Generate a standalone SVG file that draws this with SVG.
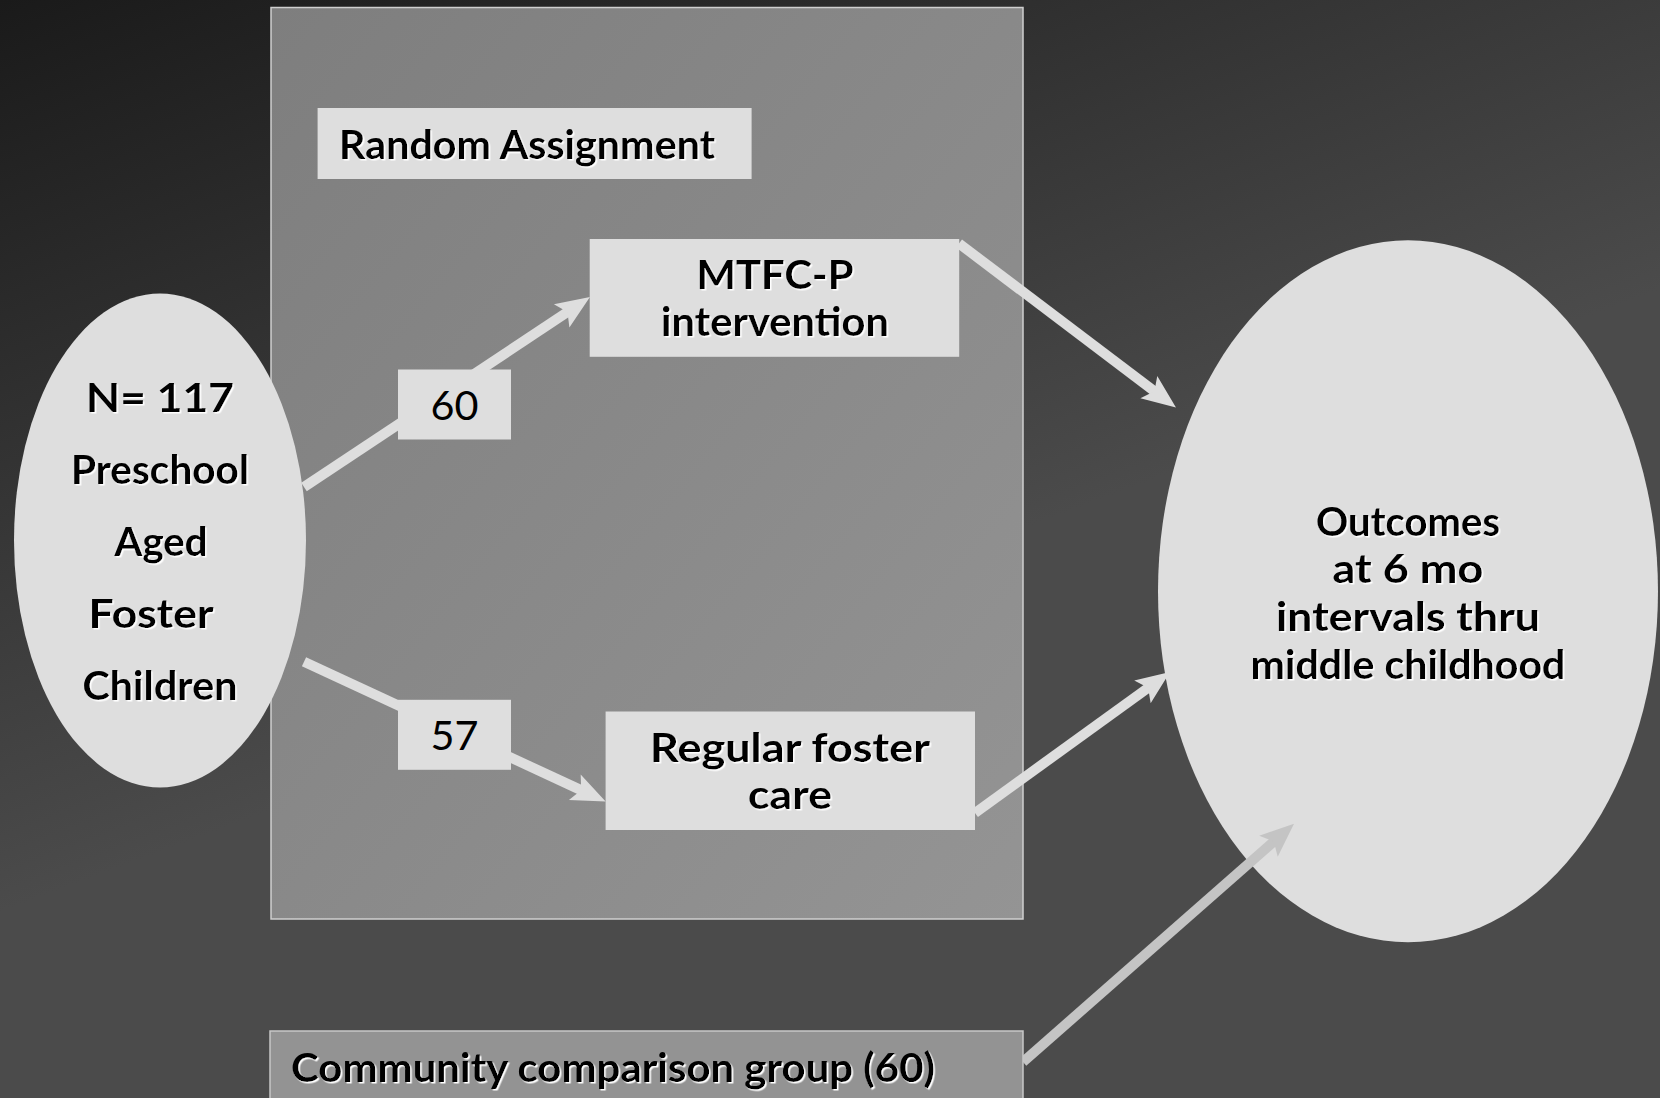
<svg xmlns="http://www.w3.org/2000/svg" width="1660" height="1098" viewBox="0 0 1660 1098">
<style>
.lbl{font-family:Lato,"Open Sans","DejaVu Sans",sans-serif;font-weight:bold;font-size:40px;fill:#000;filter:url(#sh)}
.num{font-family:Lato,"Open Sans","DejaVu Sans",sans-serif;font-weight:normal;font-size:40px;fill:#000}
.box{fill:#dedede}
.conn{stroke:#dedede;stroke-width:10;fill:none;marker-end:url(#ah)}
.conn2{stroke:#c4c4c4;stroke-width:10;fill:none;marker-end:url(#ah2)}
</style>
<defs>
<linearGradient id="bg" gradientUnits="userSpaceOnUse" x1="0" y1="0" x2="300" y2="800">
<stop offset="0" stop-color="#1a1a1a"/><stop offset="1" stop-color="#4b4b4b"/>
</linearGradient>
<linearGradient id="cg" x1="0" y1="0" x2="1" y2="1">
<stop offset="0" stop-color="#7e7e7e"/><stop offset="1" stop-color="#949494"/>
</linearGradient>
<filter id="sh" x="-5%" y="-20%" width="110%" height="140%">
<feDropShadow dx="1.5" dy="1.5" stdDeviation="0" flood-color="#ffffff" flood-opacity="1"/>
</filter>
<marker id="ah" markerUnits="userSpaceOnUse" markerWidth="36" markerHeight="30" refX="14" refY="14" orient="auto" overflow="visible">
<path d="M0,0 L34,14 L0,28 L7,14 Z" fill="#dedede"/>
</marker>
<marker id="ah2" markerUnits="userSpaceOnUse" markerWidth="36" markerHeight="30" refX="14" refY="14" orient="auto" overflow="visible">
<path d="M0,0 L34,14 L0,28 L7,14 Z" fill="#c4c4c4"/>
</marker>
</defs>
<rect x="0" y="0" width="1660" height="1098" fill="url(#bg)"/>
<g id="random-region">
<rect x="271" y="7.5" width="752" height="911.5" fill="url(#cg)" stroke="#cfcfcf" stroke-width="1.5"/>
</g>
<g id="population">
<ellipse cx="160" cy="540.5" rx="146" ry="247" fill="#dedede"/>
<text class="lbl" x="160" y="411.8" text-anchor="middle" textLength="148" lengthAdjust="spacingAndGlyphs">N= 117</text>
<text class="lbl" x="160" y="483.8" text-anchor="middle" textLength="178" lengthAdjust="spacingAndGlyphs">Preschool</text>
<text class="lbl" x="161" y="555.8" text-anchor="middle" textLength="93" lengthAdjust="spacingAndGlyphs">Aged</text>
<text class="lbl" x="151" y="627.8" text-anchor="middle" textLength="125" lengthAdjust="spacingAndGlyphs">Foster</text>
<text class="lbl" x="160" y="699.8" text-anchor="middle" textLength="155" lengthAdjust="spacingAndGlyphs">Children</text>
</g>
<g id="outcomes">
<ellipse cx="1408" cy="591.3" rx="250" ry="351" fill="#dedede"/>
<text class="lbl" x="1408" y="535.7" text-anchor="middle" textLength="184" lengthAdjust="spacingAndGlyphs">Outcomes</text>
<text class="lbl" x="1408" y="583.3" text-anchor="middle" textLength="151" lengthAdjust="spacingAndGlyphs">at 6 mo</text>
<text class="lbl" x="1408" y="631" text-anchor="middle" textLength="264" lengthAdjust="spacingAndGlyphs">intervals thru</text>
<text class="lbl" x="1408" y="678.6" text-anchor="middle" textLength="315" lengthAdjust="spacingAndGlyphs">middle childhood</text>
</g>
<g id="connectors">
<line class="conn" x1="304" y1="487" x2="573.3" y2="308.1"/>
<line class="conn" x1="304" y1="661.7" x2="587.5" y2="793.1"/>
<line class="conn" x1="959" y1="243.5" x2="1160" y2="395.5"/>
<line class="conn" x1="975" y1="813" x2="1153.8" y2="683.7"/>
<line class="conn2" x1="1023" y1="1062" x2="1279" y2="836.9"/>
</g>
<g id="random-assignment">
<rect class="box" x="317.6" y="108" width="434" height="71"/>
<text class="lbl" x="339" y="159" textLength="376" lengthAdjust="spacingAndGlyphs">Random Assignment</text>
</g>
<g id="mtfc">
<rect class="box" x="589.7" y="239" width="369.5" height="117.8"/>
<text class="lbl" x="775" y="289" text-anchor="middle" textLength="157" lengthAdjust="spacingAndGlyphs">MTFC-P</text>
<text class="lbl" x="775" y="335.6" text-anchor="middle" textLength="228" lengthAdjust="spacingAndGlyphs">intervention</text>
</g>
<g id="regular">
<rect class="box" x="605.6" y="711.5" width="369.4" height="118.5"/>
<text class="lbl" x="790" y="762.3" text-anchor="middle" textLength="280" lengthAdjust="spacingAndGlyphs">Regular foster</text>
<text class="lbl" x="790" y="808.8" text-anchor="middle" textLength="84" lengthAdjust="spacingAndGlyphs">care</text>
</g>
<g id="n60">
<rect class="box" x="398" y="369.5" width="113" height="70"/>
<text class="num" x="454.5" y="420.3" text-anchor="middle" textLength="48" lengthAdjust="spacingAndGlyphs">60</text>
</g>
<g id="n57">
<rect class="box" x="398" y="699.8" width="113" height="70"/>
<text class="num" x="454.5" y="749.6" text-anchor="middle" textLength="48" lengthAdjust="spacingAndGlyphs">57</text>
</g>
<g id="community">
<rect x="270" y="1031" width="753" height="80" fill="#939393" stroke="#c8c8c8" stroke-width="1.5"/>
<text class="lbl" x="291" y="1082" textLength="644" lengthAdjust="spacingAndGlyphs">Community comparison group (60)</text>
</g>
</svg>
